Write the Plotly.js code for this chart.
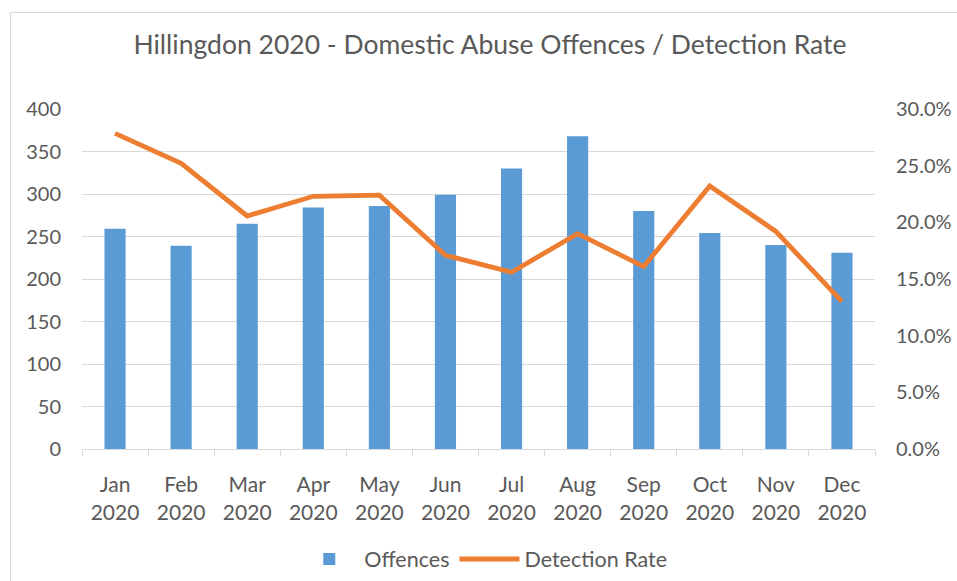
<!DOCTYPE html>
<html>
<head>
<meta charset="utf-8">
<script src="https://cdn.plot.ly/plotly-3.0.1.min.js"></script>
<style>
html,body{margin:0;padding:0;background:#fff;}
#frame{position:absolute;left:10px;top:12px;width:960px;height:580px;border-left:1px solid #d9d9d9;border-top:1px solid #d9d9d9;}
#chart{position:absolute;left:0;top:0;width:957px;height:581px;}
</style>
</head>
<body>
<div id="frame"></div>
<div id="chart"></div>
<script>
const months = ["Jan<br>2020","Feb<br>2020","Mar<br>2020","Apr<br>2020","May<br>2020","Jun<br>2020","Jul<br>2020","Aug<br>2020","Sep<br>2020","Oct<br>2020","Nov<br>2020","Dec<br>2020"];
const offences = [259, 239, 265, 284, 286, 299, 330, 368, 280, 254, 240, 231];
const detectionRate = [0.2785, 0.252, 0.2056, 0.223, 0.224, 0.171, 0.156, 0.190, 0.161, 0.232, 0.192, 0.130];
const leftTicks = [0, 50, 100, 150, 200, 250, 300, 350, 400];
const rightTicks = [0, 0.05, 0.10, 0.15, 0.20, 0.25, 0.30];

const font = "Lato, Carlito, Calibri, sans-serif";
const grey = "#595959";

const traces = [
  {
    type: "bar", name: "Offences", x: months, y: offences,
    marker: {color: "#5B9BD5"}, yaxis: "y"
  },
  {
    type: "scatter", mode: "lines", name: "Detection Rate", x: months, y: detectionRate,
    line: {color: "#ED7D31", width: 4.8, shape: "linear"}, yaxis: "y2"
  }
];

const layout = {
  width: 957, height: 581,
  paper_bgcolor: "rgba(0,0,0,0)", plot_bgcolor: "rgba(0,0,0,0)",
  margin: {l: 82, r: 82, t: 109, b: 132},
  font: {family: font, color: grey, size: 20},
  title: {
    text: "Hillingdon 2020 - Domestic Abuse Offences / Detection Rate",
    font: {family: font, size: 26.5, color: grey},
    xref: "container", x: 0.512, xanchor: "center",
    yref: "container", y: 1 - 45/581, yanchor: "middle"
  },
  bargap: 0.68,
  showlegend: true,
  legend: {
    orientation: "h", xref: "container", x: 0.505, xanchor: "center",
    yref: "container", y: 1 - 559/581, yanchor: "middle",
    font: {family: font, size: 21.5, color: grey},
    itemwidth: 60, tracegroupgap: 0
  },
  xaxis: {
    type: "category",
    showgrid: false,
    showline: true, linecolor: "#d9d9d9", linewidth: 1,
    ticks: "outside", tickson: "boundaries", ticklen: 6, tickcolor: "#d9d9d9",
    ticklabelstandoff: 17,
    tickfont: {family: font, size: 21, color: grey},
    fixedrange: true
  },
  yaxis: {
    range: [0, 400], tickvals: leftTicks, ticktext: leftTicks.map(String),
    showgrid: true, gridcolor: "#d9d9d9", gridwidth: 1,
    zeroline: false, showline: false, ticks: "",
    ticklabelstandoff: 20,
    tickfont: {family: font, size: 20, color: grey}
  },
  yaxis2: {
    overlaying: "y", side: "right",
    range: [0, 0.30], tickvals: rightTicks, tickformat: ".1%",
    showgrid: false, zeroline: false, showline: false, ticks: "",
    ticklabelstandoff: 20,
    tickfont: {family: font, size: 20, color: grey}
  }
};

Plotly.newPlot("chart", traces, layout, {displayModeBar: false, staticPlot: true});
</script>
</body>
</html>
